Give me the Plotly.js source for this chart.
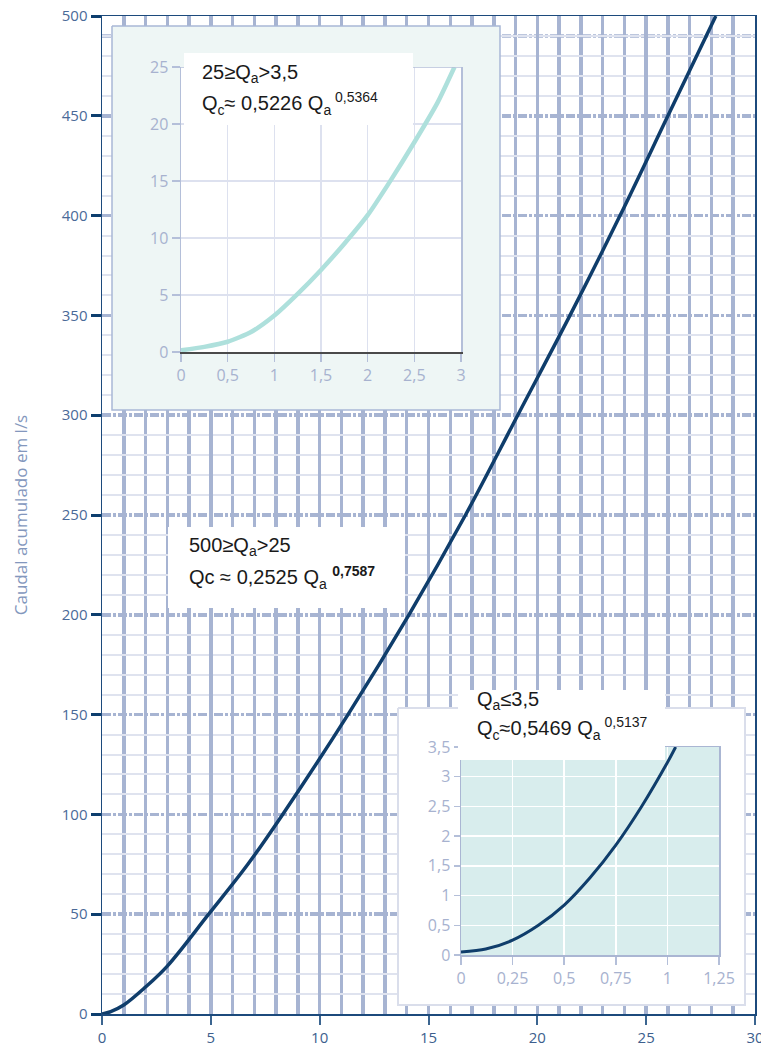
<!DOCTYPE html>
<html>
<head>
<meta charset="utf-8">
<script src="https://cdn.plot.ly/plotly-3.0.1.min.js"></script>
<style>html,body{margin:0;padding:0;background:#fff}#chart{width:761px;height:1050px}</style>
</head>
<body>
<div id="chart"></div>
<script>
// Main chart: Qc (x, 0-30) vs Qa caudal acumulado (y, 0-500)
const mainQc = [0, 0.4, 1.0, 2.0, 3.0, 4.9, 6.7, 8.3, 11.3, 14.1, 16.7, 19.1, 21.5, 23.8, 26.0, 28.2];
const mainQa = [0, 1.2, 4.5, 13.5, 24, 50, 75, 100, 150, 200, 250, 300, 350, 400, 450, 500];
// Inset 1: 25 >= Qa > 3,5
const inset1Qc = [0, 0.25, 0.5, 0.75, 1.0, 1.25, 1.5, 1.75, 2.0, 2.25, 2.5, 2.75, 2.93];
const inset1Qa = [0.15, 0.45, 0.9, 1.75, 3.2, 5.1, 7.2, 9.5, 12.0, 15.1, 18.4, 21.9, 25];
// Inset 2: Qa <= 3,5
const inset2Qc = [0, 0.12, 0.25, 0.375, 0.5, 0.625, 0.75, 0.875, 1.0, 1.04];
const inset2Qa = [0.05, 0.1, 0.25, 0.5, 0.84, 1.3, 1.85, 2.5, 3.24, 3.5];
// Texts
const yTitle = 'Caudal acumulado em l/s';
const mainLine1 = '500≥Q<sub>a</sub>>25';
const mainLine2 = 'Qc ≈ 0,2525 Q<sub>a</sub> <sup><b>0,7587</b></sup>';
const ins1Line1 = '25≥Q<sub>a</sub>>3,5';
const ins1Line2 = 'Q<sub>c</sub>≈ 0,5226 Q<sub>a</sub><sup> 0,5364</sup>';
const ins2Line1 = 'Q<sub>a</sub>≤3,5';
const ins2Line2 = 'Q<sub>c</sub>≈0,5469 Q<sub>a</sub><sup> 0,5137</sup>';

// layout helpers (plot area px -> paper fraction)
const L = 102, R = 755, T = 16, B = 1014;
const px = v => (v - L) / (R - L);
const py = v => (B - v) / (B - T);
function rect(x0, x1, y0, y1) { return { x: [px(x0), px(x1), px(x1), px(x0), px(x0)], y: [py(y0), py(y0), py(y1), py(y1), py(y0)] }; }

const gridBlue = '#a7b4d2';
const navy = '#0f3d6b';
const majorDash = '9px,2px,3px,2px';

const box1 = rect(112, 500, 26, 410);
const box1in = rect(181, 461, 67, 352);
const box2 = rect(398, 745, 708, 1005);
const box2in = rect(461, 719, 747, 955);

const traces = [
  { x: mainQc, y: mainQa, xaxis: 'x', yaxis: 'y', mode: 'lines', line: { color: navy, width: 3.5, shape: 'spline', smoothing: 1.0 }, hoverinfo: 'skip' },
  { x: box1.x, y: box1.y, xaxis: 'x2', yaxis: 'y2', mode: 'lines', fill: 'toself', fillcolor: '#eef6f5', line: { color: '#a9b8d6', width: 1.5 }, hoverinfo: 'skip' },
  { x: box1in.x, y: box1in.y, xaxis: 'x2', yaxis: 'y2', mode: 'lines', fill: 'toself', fillcolor: '#ffffff', line: { width: 0 }, hoverinfo: 'skip' },
  { x: box2.x, y: box2.y, xaxis: 'x2', yaxis: 'y2', mode: 'lines', fill: 'toself', fillcolor: '#ffffff', line: { color: '#dadeeb', width: 2 }, hoverinfo: 'skip' },
  { x: box2in.x, y: box2in.y, xaxis: 'x2', yaxis: 'y2', mode: 'lines', fill: 'toself', fillcolor: '#d8eded', line: { width: 0 }, hoverinfo: 'skip' },
  { x: inset1Qc, y: inset1Qa, xaxis: 'x3', yaxis: 'y3', mode: 'lines', line: { color: '#aee0dc', width: 4.5, shape: 'spline', smoothing: 0.6 }, hoverinfo: 'skip' },
  { x: inset2Qc, y: inset2Qa, xaxis: 'x4', yaxis: 'y4', mode: 'lines', line: { color: navy, width: 3, shape: 'spline', smoothing: 0.8 }, hoverinfo: 'skip' }
];

const tickFontMain = { family: 'Open Sans, sans-serif', size: 15 };
const insetTickFont = { family: 'Open Sans, sans-serif', size: 16, color: '#a7b2cf' };
const annFont = { family: 'Liberation Sans, Arial, sans-serif', size: 20, color: '#1a1a1a' };

function ann(text, xpx, ypx) {
  return { text: text, xref: 'paper', yref: 'paper', x: px(xpx), y: py(ypx), xanchor: 'left', yanchor: 'middle', showarrow: false, font: annFont, align: 'left' };
}
function whiteBox(x0, x1, y0, y1) {
  return { type: 'rect', xref: 'paper', yref: 'paper', x0: px(x0), x1: px(x1), y0: py(y1), y1: py(y0), fillcolor: '#ffffff', line: { width: 0 }, layer: 'above' };
}

const layout = {
  width: 761, height: 1050,
  margin: { l: L, r: 761 - R, t: T, b: 1050 - B, pad: 0 },
  paper_bgcolor: '#ffffff', plot_bgcolor: 'rgba(0,0,0,0)',
  separators: ', ',
  showlegend: false,
  xaxis: {
    range: [0, 30], dtick: 5, tick0: 0, domain: [0, 1], anchor: 'y',
    showgrid: true, gridcolor: gridBlue, gridwidth: 3.5,
    minor: { dtick: 1, showgrid: true, gridcolor: gridBlue, gridwidth: 3.5, griddash: 'solid', ticks: '' },
    showline: true, linecolor: '#1c4a7c', linewidth: 1.5, mirror: true,
    ticks: 'outside', ticklen: 9, tickwidth: 2, tickcolor: '#3b6590', ticklabeloverflow: 'allow',
    tickfont: Object.assign({ color: '#3d5f8e' }, tickFontMain), zeroline: false, fixedrange: true
  },
  yaxis: {
    range: [0, 500], dtick: 50, tick0: 0, domain: [0, 1], anchor: 'x',
    showgrid: true, gridcolor: gridBlue, gridwidth: 3.5, griddash: majorDash,
    minor: { dtick: 10, showgrid: true, gridcolor: '#dfe3ef', gridwidth: 2, griddash: 'solid', ticks: '' },
    showline: true, linecolor: '#1c4a7c', linewidth: 1.5, mirror: true,
    ticks: 'outside', ticklen: 10, tickwidth: 3, tickcolor: '#0d3e6e',
    tickfont: Object.assign({ color: '#4a6a98' }, tickFontMain), zeroline: false, fixedrange: true,
    title: { text: yTitle, font: { family: 'Open Sans, sans-serif', size: 17, color: '#8397bd' }, standoff: 30 }
  },
  xaxis2: { domain: [0, 1], range: [0, 1], anchor: 'y2', visible: false, fixedrange: true },
  yaxis2: { domain: [0, 1], range: [0, 1], anchor: 'x2', visible: false, fixedrange: true },
  xaxis3: {
    domain: [px(181), px(461)], anchor: 'y3', range: [0, 3], dtick: 0.5, tick0: 0,
    showgrid: true, gridcolor: '#dde1ef', gridwidth: 1.5,
    showline: true, linecolor: '#4a4a4a', linewidth: 1.5,
    ticks: 'outside', ticklen: 8, tickwidth: 1.5, tickcolor: '#b4bfd9',
    tickfont: insetTickFont, zeroline: false, fixedrange: true
  },
  yaxis3: {
    domain: [py(352), py(67)], anchor: 'x3', range: [0, 25], dtick: 5, tick0: 0,
    showgrid: true, gridcolor: '#dde1ef', gridwidth: 1.5,
    showline: true, linecolor: '#b4bfd9', linewidth: 1.5, mirror: true,
    ticks: 'outside', ticklen: 8, tickwidth: 1.5, tickcolor: '#b4bfd9',
    tickfont: insetTickFont, zeroline: false, fixedrange: true
  },
  xaxis4: {
    domain: [px(461), px(719)], anchor: 'y4', range: [0, 1.25], dtick: 0.25, tick0: 0,
    showgrid: true, gridcolor: '#ffffff', gridwidth: 1.5,
    showline: true, linecolor: '#aab6d3', linewidth: 1.5, mirror: true,
    ticks: 'outside', ticklen: 8, tickwidth: 1.5, tickcolor: '#b4bfd9',
    tickfont: insetTickFont, zeroline: false, fixedrange: true
  },
  yaxis4: {
    domain: [py(955), py(747)], anchor: 'x4', range: [0, 3.5], dtick: 0.5, tick0: 0,
    showgrid: true, gridcolor: '#ffffff', gridwidth: 1.5,
    showline: true, linecolor: '#aab6d3', linewidth: 1.5, mirror: true,
    ticks: 'outside', ticklen: 6, tickwidth: 1.5, tickcolor: '#b4bfd9',
    tickfont: insetTickFont, zeroline: false, fixedrange: true
  },
  shapes: [
    { type: 'line', xref: 'x', yref: 'y', x0: 0, x1: 30, y0: 490, y1: 490, line: { color: gridBlue, width: 3.5, dash: majorDash }, layer: 'below' },
    { type: 'line', xref: 'x3', yref: 'y3', x0: 0, x1: 3, y0: 25, y1: 25, line: { color: '#b4bfd9', width: 1.5 }, layer: 'above' },
    whiteBox(168, 405, 527, 608),
    whiteBox(184, 413, 53, 125),
    whiteBox(458, 665, 690, 760)
  ],
  annotations: [
    ann(mainLine1, 187, 546), ann(mainLine2, 187, 577),
    ann(ins1Line1, 200, 73), ann(ins1Line2, 200, 103),
    ann(ins2Line1, 475, 700), ann(ins2Line2, 475, 728)
  ]
};

Plotly.newPlot('chart', traces, layout, { staticPlot: true, displayModeBar: false });
</script>
</body>
</html>
